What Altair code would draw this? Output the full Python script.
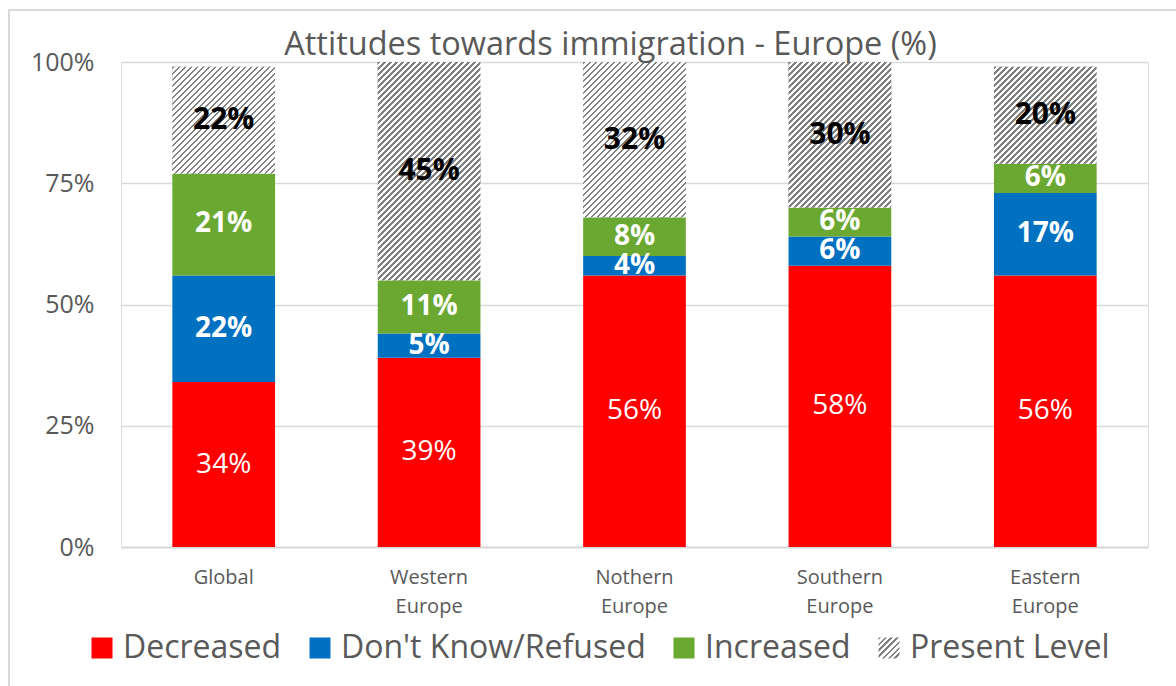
import json
import altair as alt
import pandas as pd

regions = ["Global", "Western Europe", "Nothern Europe", "Southern Europe", "Eastern Europe"]
categories = ["Decreased", "Don't Know/Refused", "Increased", "Present Level"]
decreased = [34, 39, 56, 58, 56]
dont_know = [22, 5, 4, 6, 17]
increased = [21, 11, 8, 6, 6]
present = [22, 45, 32, 30, 20]
colors = ["#ff0000", "#0070c0", "#6ba832"]

series = [decreased, dont_know, increased, present]
rows = []
for ci, (cat, vals) in enumerate(zip(categories, series)):
    for r, v in zip(regions, vals):
        rows.append({"region": r, "cat": cat, "ord": ci, "v": v / 100.0})
df = pd.DataFrame(rows)

FONT = "Open Sans"
W, H = 1027, 485
BAND_W = W / (5 - 0.5 + 0.5) * 0.5


def hatch(w, h, period=6.0, dark="#808080", light="#ffffff", duty=0.42):
    r = h / w
    s = (1 + r) / (1 + r * r)
    n = (w + h) / period
    stops = []
    i = 0
    while i / n < 1:
        a = i / n
        b = min((i + duty) / n, 1.0)
        c = min((i + 1) / n, 1.0)
        stops += [
            {"offset": round(a, 5), "color": dark},
            {"offset": round(b, 5), "color": dark},
            {"offset": round(b, 5), "color": light},
            {"offset": round(c, 5), "color": light},
        ]
        i += 1
    return {"gradient": "linear", "x1": 0, "y1": 0, "x2": round(s, 5), "y2": round(s * r, 5), "stops": stops}


legend_hatch = {"expr": json.dumps(hatch(21, 21, period=6.0))}

xscale = alt.Scale(domain=regions, paddingInner=0.5, paddingOuter=0.25)
yscale = alt.Scale(domain=[0, 1])

base = alt.Chart(df).transform_stack(
    stack="v", groupby=["region"], as_=["y0", "y1"], sort=[alt.SortField("ord")]
).transform_calculate(mid="(datum.y0 + datum.y1) / 2")

x_enc = alt.X(
    "region:N",
    scale=xscale,
    sort=regions,
    title=None,
    axis=alt.Axis(
        labelAngle=0,
        labelFont=FONT,
        labelFontSize=20,
        labelColor="#595959",
        labelPadding=20,
        labelLineHeight=29,
        labelExpr="split(datum.label, ' ')",
        ticks=False,
        domainColor="#d9d9d9",
        domainWidth=2,
        grid=False,
    ),
)

frame = base.mark_rect(fill=None, stroke="#d9d9d9", strokeWidth=2).encode(
    x=alt.value(-112), x2=alt.value(W + 80), y=alt.value(-52), y2=alt.value(H + 200)
)

bars = base.mark_bar(strokeWidth=0).encode(
    x=x_enc,
    y=alt.Y(
        "y0:Q",
        scale=yscale,
        title=None,
        axis=alt.Axis(
            values=[0, 0.25, 0.5, 0.75, 1.0],
            format=".0%",
            labelFont=FONT,
            labelFontSize=25,
            labelColor="#595959",
            labelPadding=27,
            ticks=False,
            domain=False,
            gridColor="#d9d9d9",
            gridWidth=1.5,
        ),
    ),
    y2="y1:Q",
    color=alt.Color(
        "cat:N",
        scale=alt.Scale(domain=categories, range=colors + [legend_hatch]),
        legend=alt.Legend(
            title=None,
            orient="none",
            legendX=-35,
            legendY=570,
            direction="horizontal",
            columns=4,
            symbolType="square",
            symbolSize=441,
            symbolStrokeWidth=0,
            labelFont=FONT,
            labelFontSize=32,
            labelColor="#595959",
            labelOffset=5,
            columnPadding=22,
            labelLimit=600,
            padding=0,
        ),
    ),
)

hatch_layers = []
for r, v in zip(regions, present):
    h = v / 100.0 * H
    hatch_layers.append(
        base.transform_filter(
            (alt.datum.region == r) & (alt.datum.cat == "Present Level")
        )
        .mark_bar(strokeWidth=0, fill=hatch(BAND_W, h))
        .encode(x=alt.X("region:N", scale=xscale, sort=regions), y="y0:Q", y2="y1:Q")
    )


def label_layer(cats, color, size, weight):
    return (
        base.transform_filter(alt.FieldOneOfPredicate(field="cat", oneOf=cats))
        .mark_text(font=FONT, fontSize=size, fontWeight=weight, baseline="middle", color=color)
        .encode(
            x=alt.X("region:N", scale=xscale, sort=regions),
            y=alt.Y("mid:Q", scale=yscale),
            text=alt.Text("v:Q", format=".0%"),
        )
    )


labels_red = label_layer(["Decreased"], "#ffffff", 28, "normal")
labels_mid = label_layer(["Don't Know/Refused", "Increased"], "#ffffff", 28, "bold")
labels_top = label_layer(["Present Level"], "#000000", 30, "bold")

chart = alt.layer(frame, bars, *hatch_layers, labels_red, labels_mid, labels_top).properties(
    width=W,
    height=H,
    padding={"left": 121, "top": 62, "right": 28, "bottom": 139},
    autosize=alt.AutoSizeParams(type="none"),
    title=alt.TitleParams(
        text="Attitudes towards immigration - Europe (%)",
        font=FONT,
        fontSize=32.5,
        fontWeight="normal",
        color="#595959",
        anchor="middle",
        frame="group",
        baseline="alphabetic",
        offset=-44,
        dx=-24,
        dy=34,
    ),
).configure_view(stroke=None).configure(background="white")

chart.save("out.html", embed_options={"renderer": "svg", "actions": False})
